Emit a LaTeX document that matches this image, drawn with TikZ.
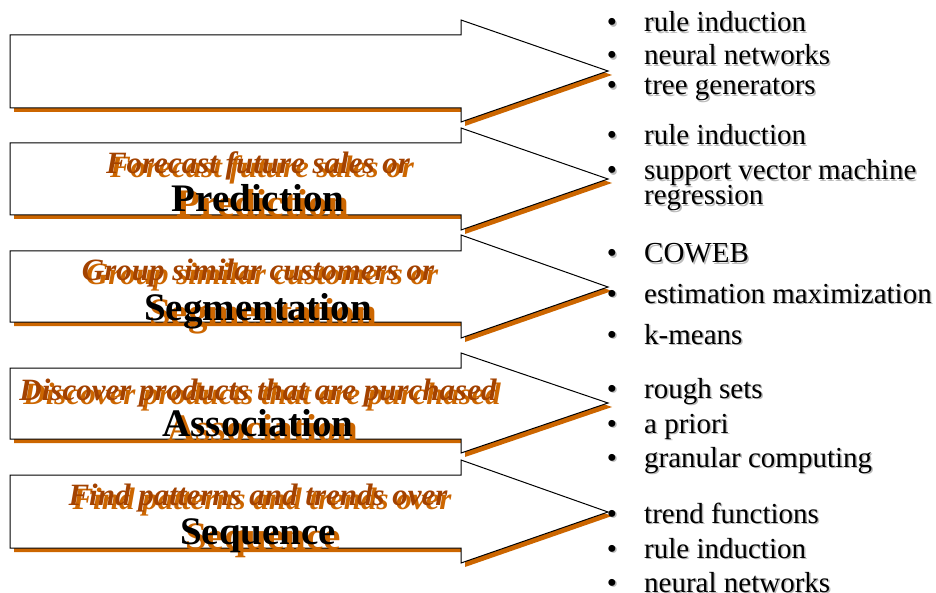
\documentclass[tikz,border=0pt]{standalone}
\usepackage{fontspec}
\setmainfont{Liberation Serif}
\definecolor{shad}{HTML}{CC6600}
\definecolor{brn}{HTML}{A34200}
\definecolor{tshad}{HTML}{BBBBBB}
\newcommand\mkarrow[5]{%
  \fill[shad] ({10+4},{#1+4}) -- ({461+4},{#1+4}) -- ({461+4},{#3+4}) -- ({608+4},{#5+4}) -- ({461+4},{#4+4}) -- ({461+4},{#2+4}) -- ({10+4},{#2+4}) -- cycle;
  \draw[arrowshape] (10,#1) -- (461,#1) -- (461,#3) -- (608,#5) -- (461,#4) -- (461,#2) -- (10,#2) -- cycle;
}
\newcommand\mklabel[5]{% name, italic text, italic baseline, bold text, bold baseline
  \node[itext, text=shad] (#1is) at (262,{#3+4}) {#2};
  \node[itext, text=brn] (#1i) at (258,#3) {#2};
  \node[btext, text=shad] (#1bs) at (263,{#5+5}) {#4};
  \node[btext, text=black] (#1b) at (258,#5) {#4};
}
\newcommand\mkitem[3]{% name, baseline, text
  \node[bul, text=tshad] (#1ds) at (613.5,{#2+1.5}) {•};
  \node[bul] (#1d) at (612,#2) {•};
  \node[ltext, text=tshad] (#1s) at (645.5,{#2+1.5}) {#3};
  \node[ltext] (#1) at (644,#2) {#3};
}
\tikzset{
  arrowshape/.style={fill=white, draw=black, line width=1pt, line join=miter},
  itext/.style={font=\fontsize{31}{32}\selectfont\bfseries\itshape, inner sep=0pt, anchor=base},
  btext/.style={font=\fontsize{39}{40}\selectfont\bfseries, inner sep=0pt, anchor=base},
  ltext/.style={font=\fontsize{29}{30}\selectfont, inner sep=0pt, anchor=base west},
  bul/.style={font=\fontsize{29}{30}\selectfont, inner sep=0pt, anchor=base},
}
\begin{document}
\begin{tikzpicture}[x=1pt,y=-1pt]
\useasboundingbox (0,0) rectangle (936,593);
% arrows
\mkarrow{35}{108}{20}{122}{71}
\mkarrow{143}{215}{128}{230}{179}
\mkarrow{251}{322}{235}{338}{287}
\mkarrow{368}{439}{353}{453}{403}
\mkarrow{475}{548}{460}{563}{512}
% labels
\mklabel{pr}{Forecast future sales or}{174}{Prediction}{212}
\mklabel{sg}{Group similar customers or}{281}{Segmentation}{320}
\mklabel{as}{Discover products that are purchased}{400}{Association}{436}
\mklabel{sq}{Find patterns and trends over}{505}{Sequence}{544}
% lists
\mkitem{a1}{32}{rule induction}
\mkitem{a2}{65}{neural networks}
\mkitem{a3}{95}{tree generators}
\mkitem{b1}{145}{rule induction}
\mkitem{b2}{180}{support vector machine}
\node[ltext, text=tshad] (b3s) at (645.5,206.5) {regression};
\node[ltext] (b3) at (644,205) {regression};
\mkitem{c1}{263}{COWEB}
\mkitem{c2}{303}{estimation maximization}
\mkitem{c3}{344}{k-means}
\mkitem{d1}{398}{rough sets}
\mkitem{d2}{433}{a priori}
\mkitem{d3}{467}{granular computing}
\mkitem{e1}{523}{trend functions}
\mkitem{e2}{558}{rule induction}
\mkitem{e3}{592}{neural networks}
\end{tikzpicture}
\end{document}
